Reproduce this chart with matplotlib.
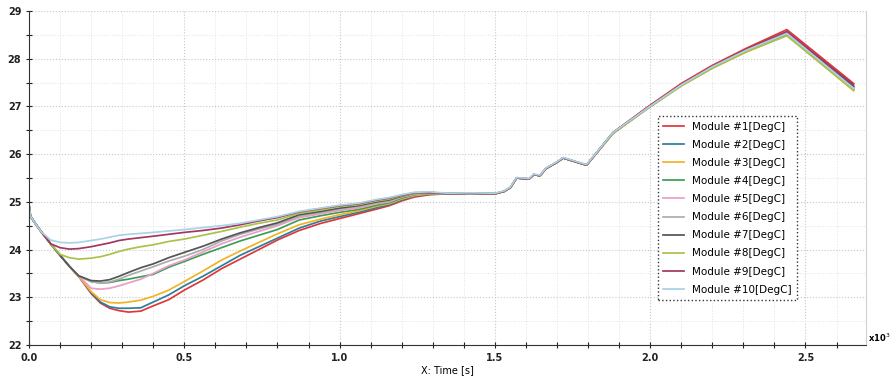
import numpy as np
import matplotlib
matplotlib.use("Agg")
import matplotlib.pyplot as plt
from matplotlib.ticker import MultipleLocator

# time in seconds, shared by all modules
t = [0, 5, 20, 40, 70, 100, 130, 160, 200, 230, 260, 290, 320, 360, 400, 450, 500,
     560, 620, 680, 740, 800, 870, 940, 1000, 1060, 1120, 1160, 1200, 1240, 1290,
     1350, 1420, 1500, 1530, 1550, 1570, 1610, 1625, 1645, 1665, 1700, 1720, 1795,
     1880, 1990, 2100, 2200, 2310, 2440, 2655]

m1 = [24.95, 24.70, 24.55, 24.37, 24.12, 23.88, 23.65, 23.44, 23.08, 22.88, 22.77, 22.72, 22.69,
      22.71, 22.82, 22.95, 23.15, 23.36, 23.60, 23.80, 24.00, 24.20, 24.40, 24.55, 24.65,
      24.75, 24.85, 24.92, 25.02, 25.10, 25.15,
      25.17, 25.18, 25.17, 25.22, 25.30, 25.50, 25.48, 25.57, 25.55, 25.70, 25.83, 25.92, 25.77,
      26.45, 26.98, 27.48, 27.86, 28.22, 28.61, 27.48]
m2 = [24.95, 24.70, 24.55, 24.37, 24.12, 23.88, 23.65, 23.44, 23.10, 22.90, 22.80, 22.77, 22.77,
      22.78, 22.90, 23.05, 23.24, 23.44, 23.66, 23.88, 24.06, 24.24, 24.45, 24.60, 24.69,
      24.78, 24.88, 24.94, 25.04, 25.12, 25.16,
      25.17, 25.18, 25.17, 25.22, 25.30, 25.50, 25.48, 25.57, 25.55, 25.70, 25.83, 25.92, 25.77,
      26.44, 26.96, 27.45, 27.83, 28.18, 28.55, 27.40]
m3 = [24.95, 24.70, 24.55, 24.37, 24.12, 23.88, 23.65, 23.44, 23.12, 22.95, 22.89, 22.88, 22.90,
      22.94, 23.02, 23.15, 23.33, 23.55, 23.78, 23.97, 24.15, 24.33, 24.52, 24.64, 24.73,
      24.81, 24.91, 24.96, 25.06, 25.13, 25.17,
      25.17, 25.18, 25.17, 25.22, 25.30, 25.50, 25.48, 25.57, 25.55, 25.70, 25.83, 25.92, 25.77,
      26.43, 26.95, 27.43, 27.80, 28.14, 28.49, 27.33]
m4 = [24.95, 24.70, 24.55, 24.37, 24.12, 23.88, 23.65, 23.45, 23.33, 23.30, 23.31, 23.35, 23.38,
      23.43, 23.48, 23.63, 23.75, 23.90, 24.04, 24.18, 24.30, 24.42, 24.62, 24.71, 24.78,
      24.84, 24.93, 24.98, 25.08, 25.15, 25.18,
      25.17, 25.18, 25.17, 25.22, 25.30, 25.50, 25.48, 25.57, 25.55, 25.70, 25.83, 25.92, 25.77,
      26.44, 26.95, 27.44, 27.81, 28.16, 28.51, 27.36]
m5 = [24.95, 24.70, 24.55, 24.37, 24.12, 23.88, 23.65, 23.45, 23.19, 23.17, 23.19, 23.24, 23.30,
      23.38, 23.50, 23.66, 23.78, 23.95, 24.12, 24.26, 24.38, 24.50, 24.67, 24.75, 24.82,
      24.87, 24.96, 25.00, 25.10, 25.16, 25.18,
      25.17, 25.18, 25.17, 25.22, 25.30, 25.50, 25.48, 25.57, 25.55, 25.70, 25.83, 25.92, 25.77,
      26.44, 26.96, 27.45, 27.82, 28.17, 28.53, 27.38]
m6 = [24.95, 24.70, 24.55, 24.37, 24.12, 23.88, 23.65, 23.45, 23.33, 23.30, 23.32, 23.38, 23.46,
      23.55, 23.64, 23.76, 23.86, 24.00, 24.18, 24.32, 24.43, 24.53, 24.70, 24.78, 24.85,
      24.90, 24.98, 25.02, 25.11, 25.17, 25.19,
      25.17, 25.18, 25.17, 25.22, 25.30, 25.50, 25.48, 25.57, 25.55, 25.70, 25.83, 25.92, 25.77,
      26.44, 26.96, 27.45, 27.82, 28.17, 28.52, 27.37]
m7 = [24.95, 24.70, 24.55, 24.37, 24.12, 23.88, 23.65, 23.45, 23.35, 23.34, 23.37, 23.44, 23.52,
      23.62, 23.70, 23.83, 23.94, 24.07, 24.22, 24.35, 24.46, 24.56, 24.73, 24.80, 24.87,
      24.92, 25.00, 25.04, 25.12, 25.18, 25.19,
      25.17, 25.18, 25.17, 25.22, 25.30, 25.50, 25.48, 25.57, 25.55, 25.70, 25.83, 25.92, 25.77,
      26.44, 26.96, 27.45, 27.83, 28.18, 28.54, 27.42]
m8 = [24.95, 24.70, 24.55, 24.37, 24.12, 23.90, 23.83, 23.80, 23.82, 23.85, 23.90, 23.96, 24.01,
      24.06, 24.10, 24.17, 24.22, 24.30, 24.38, 24.47, 24.55, 24.62, 24.76, 24.83, 24.90,
      24.94, 25.02, 25.06, 25.13, 25.18, 25.20,
      25.17, 25.18, 25.17, 25.22, 25.30, 25.50, 25.48, 25.57, 25.55, 25.70, 25.83, 25.92, 25.77,
      26.43, 26.95, 27.43, 27.80, 28.15, 28.48, 27.34]
m9 = [24.95, 24.70, 24.55, 24.37, 24.12, 24.04, 24.01, 24.02, 24.06, 24.10, 24.14, 24.19, 24.22,
      24.25, 24.28, 24.32, 24.36, 24.40, 24.45, 24.52, 24.60, 24.67, 24.79, 24.86, 24.92,
      24.96, 25.04, 25.08, 25.14, 25.19, 25.20,
      25.17, 25.18, 25.17, 25.22, 25.30, 25.50, 25.48, 25.57, 25.55, 25.70, 25.83, 25.92, 25.77,
      26.45, 26.97, 27.46, 27.84, 28.20, 28.57, 27.45]
m10 = [24.95, 24.70, 24.55, 24.37, 24.20, 24.15, 24.14, 24.15, 24.19, 24.22, 24.26, 24.30, 24.32,
       24.34, 24.36, 24.39, 24.42, 24.46, 24.50, 24.55, 24.62, 24.69, 24.80, 24.87, 24.93,
       24.97, 25.05, 25.09, 25.15, 25.20, 25.21,
       25.18, 25.19, 25.18, 25.23, 25.31, 25.51, 25.49, 25.58, 25.56, 25.71, 25.84, 25.93, 25.78,
       26.45, 26.96, 27.45, 27.83, 28.18, 28.53, 27.38]

modules = [m1, m2, m3, m4, m5, m6, m7, m8, m9, m10]
labels = ['Module #%d[DegC]' % (i + 1) for i in range(10)]
colors = ['#e0363a', '#2d7d9c', '#f2b327', '#3c9e55', '#ec9ccb',
          '#adadad', '#555555', '#a9c24a', '#a3375f', '#a9d3e6']

fig = plt.figure(figsize=(8.91, 3.79), dpi=100)
ax = fig.add_axes([0.0325, 0.0897, 0.9395, 0.8813])

tk = np.array(t) / 1000.0  # axis is in x10^3 s
for vals, c, lab in zip(modules, colors, labels):
    ax.plot(tk, vals, color=c, lw=1.25, label=lab)

ax.set_xlim(0, 2.695)
ax.set_ylim(22, 29)
ax.xaxis.set_major_locator(MultipleLocator(0.5))
ax.xaxis.set_minor_locator(MultipleLocator(0.1))
ax.yaxis.set_major_locator(MultipleLocator(1))
ax.yaxis.set_minor_locator(MultipleLocator(0.5))
ax.xaxis.set_major_formatter(plt.FormatStrFormatter('%.1f'))

ax.grid(which='major', color='#c8c8c8', ls=':', lw=0.8)
ax.grid(which='minor', color='#e2e2e2', ls=':', lw=0.7)

ax.tick_params(which='both', direction='inout', length=4, width=0.8, colors='#222222',
               labelsize=7)
for lab in ax.get_xticklabels() + ax.get_yticklabels():
    lab.set_fontweight('bold')

ax.spines['top'].set_visible(False)
ax.spines['right'].set_color('#d0d0d0')
ax.spines['left'].set_color('#333333')
ax.spines['bottom'].set_color('#333333')

ax.set_xlabel('X: Time [s]', fontsize=7, labelpad=2)
fig.text(0.974, 0.108, 'x10$^{3}$', fontsize=6, fontweight='bold', ha='left', va='center')

leg = ax.legend(loc='upper left', bbox_to_anchor=(0.745, 0.70), fontsize=7.5,
                handlelength=2.0, labelspacing=0.78, borderpad=0.5,
                fancybox=False, framealpha=1.0)
frame = leg.get_frame()
frame.set_edgecolor('#333333')
frame.set_linestyle(':')
frame.set_linewidth(1.0)

plt.savefig('out.png', dpi=100)
